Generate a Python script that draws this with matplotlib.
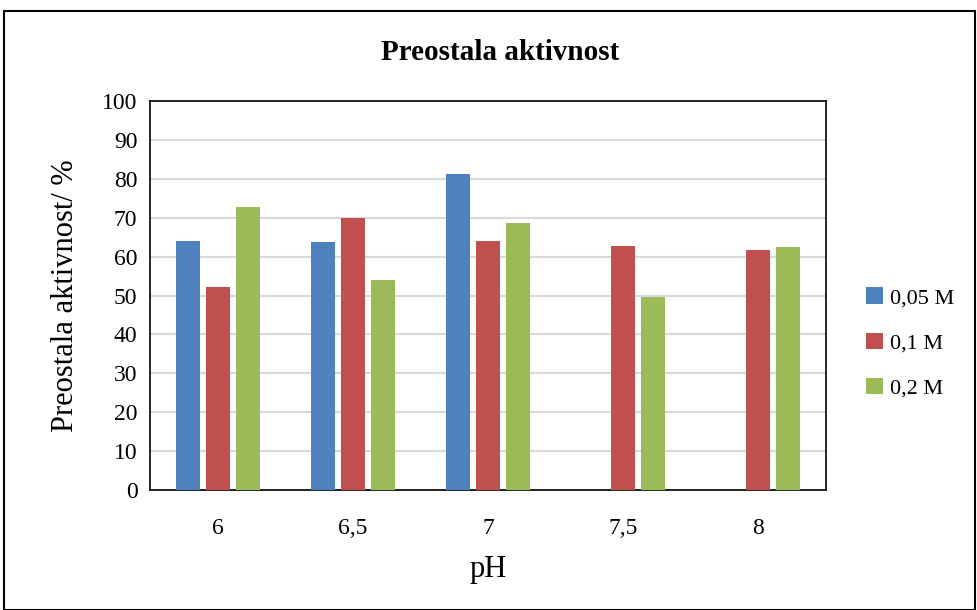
import numpy as np
import matplotlib.pyplot as plt
from matplotlib.patches import Rectangle

plt.rcParams['font.family'] = ['Liberation Serif', 'DejaVu Serif']

ph = ['6', '6,5', '7', '7,5', '8']
serije = ['0,05 M', '0,1 M', '0,2 M']
m005 = [64.1, 63.7, 81.3, 0, 0]
m01 = [52.2, 69.9, 64.1, 62.6, 61.8]
m02 = [72.8, 54.0, 68.6, 49.6, 62.5]
boje = ['#4F81BD', '#C0504D', '#9BBB59']

fig = plt.figure(figsize=(9.78, 6.1), dpi=100)
ax = fig.add_axes([150/978, 1-490/610, 676/978, 389/610])

x = np.arange(len(ph))
w = 0.177
pomak = 0.222
for i, (vals, lab) in enumerate(zip([m005, m01, m02], serije)):
    ax.bar(x + (i-1)*pomak, vals, w, color=boje[i], label=lab, zorder=3)

ax.set_xlim(-0.5, len(ph)-0.5)
ax.set_ylim(0, 100)
ax.set_yticks(range(0, 101, 10))
ax.set_xticks(x)
ax.set_xticklabels(ph)
ax.tick_params(axis='both', length=0, labelsize=17)
ax.tick_params(axis='y', pad=9)
ax.tick_params(axis='x', pad=20)
ax.grid(axis='y', color='#d9d9d9', linewidth=1.5, zorder=0)
for s in ax.spines.values():
    s.set_color('black')
    s.set_linewidth(1.2)

ax.set_xlabel('pH', fontsize=22, labelpad=12)
ax.set_ylabel('Preostala aktivnost/ %', fontsize=22, labelpad=16)
fig.text(0.511, 1-52/610, 'Preostala aktivnost', ha='center', va='center',
         fontsize=21, fontweight='bold')

fig.legend(loc='center left', bbox_to_anchor=(866/978, 1-343/610), frameon=False,
           fontsize=16, handlelength=0.75, handleheight=0.75, labelspacing=1.1,
           handletextpad=0.35, borderpad=0, borderaxespad=0)

fig.patches.append(Rectangle((4/978, 0), 971/978, 1-11/610, transform=fig.transFigure,
                             fill=False, edgecolor='black', linewidth=1.5))

fig.savefig('out.png', dpi=100)
